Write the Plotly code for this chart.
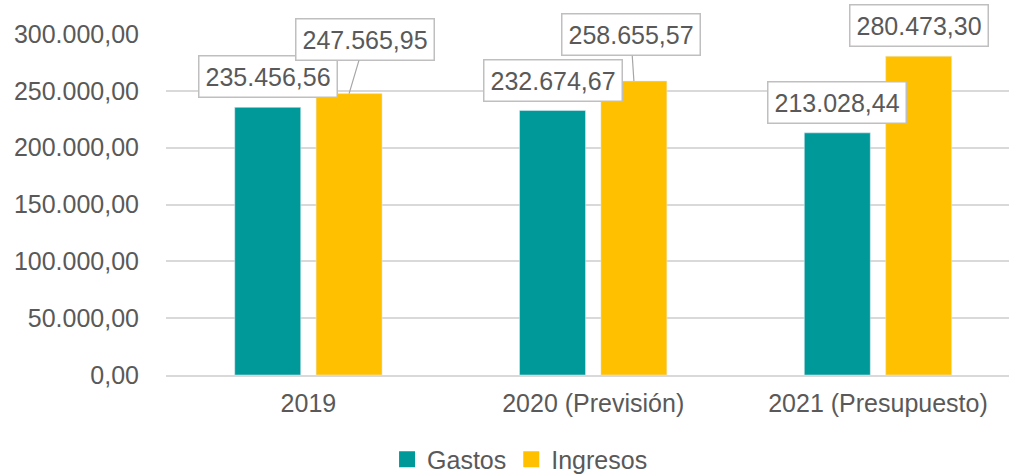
import plotly.graph_objects as go

categories = ["2019", "2020 (Previsión)", "2021 (Presupuesto)"]
gastos = [235456.56, 232674.67, 213028.44]
ingresos = [247565.95, 258655.57, 280473.30]
y_ticks = [0, 50000, 100000, 150000, 200000, 250000, 300000]

TEAL = "#009999"
GOLD = "#FFC000"
TXT = "#595959"
FONT = "Arial, Liberation Sans, sans-serif"
FS = 25


def fmt(v):
    s = f"{v:,.2f}"
    return s.replace(",", "X").replace(".", ",").replace("X", ".")


xs = list(range(len(categories)))

fig = go.Figure()
fig.add_trace(go.Bar(x=xs, y=gastos, name="Gastos", marker_color=TEAL, showlegend=False))
fig.add_trace(go.Bar(x=xs, y=ingresos, name="Ingresos", marker_color=GOLD, showlegend=False))
# legend entries
fig.add_trace(go.Scatter(x=[None], y=[None], mode="markers", name="Gastos",
                         marker=dict(symbol="square", size=18, color=TEAL)))
fig.add_trace(go.Scatter(x=[None], y=[None], mode="markers", name="Ingresos",
                         marker=dict(symbol="square", size=18, color=GOLD)))

SHIFT = 40.7
box = dict(bgcolor="white", bordercolor="#BFBFBF", borderwidth=1.5, borderpad=6,
           font=dict(family=FONT, size=FS, color=TXT))

# Gastos labels
for i, v in enumerate(gastos):
    fig.add_annotation(x=i, y=v, text=fmt(v), showarrow=False, xshift=-SHIFT,
                       yanchor="bottom", yshift=9, **box)

# Ingresos labels (leader lines for first two)
leaders = [(16, -54), (-3, -46), None]
for i, v in enumerate(ingresos):
    if leaders[i] is None:
        fig.add_annotation(x=i, y=v, text=fmt(v), showarrow=False, xshift=SHIFT,
                           yanchor="bottom", yshift=9, **box)
    else:
        ax, ay = leaders[i]
        fig.add_annotation(x=i, y=v, text=fmt(v), showarrow=True, xshift=SHIFT,
                           ax=ax, ay=ay, arrowhead=0, arrowwidth=1.2,
                           arrowcolor="#A6A6A6", standoff=0, **box)

fig.update_layout(
    width=1009, height=475,
    margin=dict(l=166, r=0, t=34, b=100, autoexpand=False),
    paper_bgcolor="white", plot_bgcolor="white",
    barmode="group", bargap=0.4286, bargroupgap=0.189,
    separators=",.",
    font=dict(family=FONT, size=FS, color=TXT),
    legend=dict(orientation="h", x=0.42, xanchor="center", y=-0.248, yanchor="middle",
                font=dict(family=FONT, size=FS, color=TXT), itemsizing="trace",
                tracegroupgap=0, itemwidth=30),
)
fig.update_xaxes(range=[-0.5, 2.46], tickmode="array", tickvals=xs, ticktext=categories,
                 showgrid=False, showline=True, linecolor="#D9D9D9", linewidth=1.5,
                 ticks="", ticklabelstandoff=5, tickfont=dict(size=FS, color=TXT),
                 zeroline=False, fixedrange=True, automargin=False)
fig.update_yaxes(range=[0, 300000], tickmode="array", tickvals=y_ticks,
                 tickformat=",.2f", showgrid=True, gridcolor="#D9D9D9", gridwidth=1.5,
                 showline=False, zeroline=False, ticks="", ticklabelstandoff=26,
                 tickfont=dict(size=FS, color=TXT), automargin=False)

fig.write_html("out.html", config={"displayModeBar": False},
               post_script="document.body.style.margin='0';document.body.style.overflow='hidden';")
